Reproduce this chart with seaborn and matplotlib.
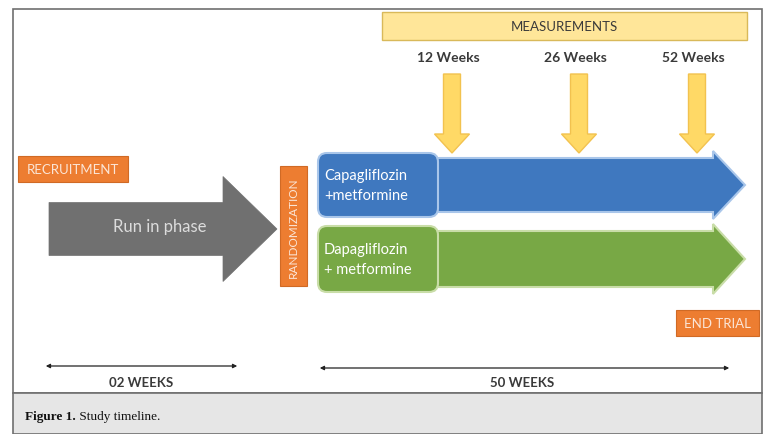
import seaborn as sns
import matplotlib.pyplot as plt
from matplotlib.patches import Polygon, FancyBboxPatch, Rectangle

# --------------------------
# Diagram content
# --------------------------
phase_labels = ['RECRUITMENT', 'RANDOMIZATION', 'END TRIAL']
run_in_label = 'Run in phase'
header_label = 'MEASUREMENTS'
measurement_labels = ['12 Weeks', '26 Weeks', '52 Weeks']
arm_labels = ['Capagliflozin\n+metformine', 'Dapagliflozin\n+ metformine']
duration_labels = ['02 WEEKS', '50 WEEKS']
caption_bold = 'Figure 1.'
caption_text = ' Study timeline.'

# --------------------------
# Style
# --------------------------
sns.set_style("white")
font = ['Lato', 'DejaVu Sans']
plt.rcParams['font.family'] = font

orange = '#ED7D31'
yellow = '#FFD966'
yellow_edge = '#F2C24F'
yellow_box = '#FFE699'
yellow_box_edge = '#D9B95A'
arm_colors = ['#3F78BF', '#78A845']
arm_edges = ['#A9C6EA', '#C9DDA8']
gray_arrow = '#707070'
text_dark = '#3A3A3A'

width, height = 7.63, 4.35
fig = plt.figure(figsize=(width, height), dpi=100)
ax = fig.add_axes([0, 0, 1, 1])
ax.set_xlim(0, 763)
ax.set_ylim(435, 0)
ax.axis('off')

# --------------------------
# Layout (pixel space)
# --------------------------
frame = (13, 10, 749, 384)          # x, y, w, h of white panel
caption_box = (13, 394, 749, 41)
meas_x = [452, 579, 697]
arm_rows = [(152, 220), (225, 295)]  # top, bottom of each arm box


def right_arrow(x0, x1, yc, body_h, head_h, head_len, **kw):
    xs = x1 - head_len
    pts = [(x0, yc - body_h / 2), (xs, yc - body_h / 2), (xs, yc - head_h / 2), (x1, yc),
           (xs, yc + head_h / 2), (xs, yc + body_h / 2), (x0, yc + body_h / 2)]
    ax.add_patch(Polygon(pts, closed=True, **kw))


def down_arrow(xc, y0, y1, shaft_w, head_w, head_len, **kw):
    ys = y1 - head_len
    pts = [(xc - shaft_w / 2, y0), (xc + shaft_w / 2, y0), (xc + shaft_w / 2, ys), (xc + head_w / 2, ys),
           (xc, y1), (xc - head_w / 2, ys), (xc - shaft_w / 2, ys)]
    ax.add_patch(Polygon(pts, closed=True, **kw))


# Frame and caption strip
ax.add_patch(Rectangle(frame[:2], frame[2], frame[3], facecolor='white', edgecolor='#6F6F6F', lw=1.2))
ax.add_patch(Rectangle(caption_box[:2], caption_box[2], caption_box[3], facecolor='#E6E6E6',
                       edgecolor='#6F6F6F', lw=1.2))

# Measurements header
ax.add_patch(Rectangle((382, 13), 365, 28, facecolor=yellow_box, edgecolor=yellow_box_edge, lw=1))
ax.text(564, 27, header_label, ha='center', va='center', fontsize=9.5, color=text_dark)

# Measurement arrows
for x, lab in zip(meas_x, measurement_labels):
    ax.text(x - 4, 58, lab, ha='center', va='center', fontsize=10, color=text_dark, fontweight='bold')
    down_arrow(x, 75, 154, 17, 35, 19, facecolor=yellow, edgecolor=yellow_edge, lw=1, zorder=3)

# Treatment arms
for (top, bot), lab, col, edge in zip(arm_rows, arm_labels, arm_colors, arm_edges):
    yc = (top + bot) / 2
    right_arrow(430, 745, yc, bot - top - 14, bot - top, 32, facecolor=col, edgecolor=edge, lw=1.5, zorder=2)
    ax.add_patch(FancyBboxPatch((318, top + 2), 120, bot - top - 4, boxstyle='round,pad=0,rounding_size=9',
                                facecolor=col, edgecolor=edge, lw=1.5, zorder=4))
    ax.text(324, yc, lab, ha='left', va='center', fontsize=10.5, color='white', linespacing=1.6, zorder=5)

# Run-in arrow
right_arrow(49, 277, 230, 53, 105, 54, facecolor=gray_arrow, edgecolor=gray_arrow, lw=0.5)
ax.text(160, 227, run_in_label, ha='center', va='center', fontsize=12, color='#DCDCDC')

# Orange phase markers
ax.add_patch(Rectangle((18, 157), 110, 26, facecolor=orange, edgecolor='#D06A25', lw=0.8))
ax.text(73, 170, phase_labels[0], ha='center', va='center', fontsize=9.5, color='#FBE5D6')
ax.add_patch(Rectangle((280, 167), 27, 120, facecolor=orange, edgecolor='#D06A25', lw=0.8))
ax.text(293.5, 228, phase_labels[1], ha='center', va='center', fontsize=8.5, color='#FBE5D6', rotation=90)
ax.add_patch(Rectangle((676, 311), 83, 26, facecolor=orange, edgecolor='#D06A25', lw=0.8))
ax.text(717.5, 324, phase_labels[2], ha='center', va='center', fontsize=9.5, color='#FBE5D6')

# Duration spans
spans = [(43, 240, 367), (317, 732, 369)]
for (xa, xb, y), lab in zip(spans, duration_labels):
    ax.annotate('', xy=(xb, y), xytext=(xa, y),
                arrowprops=dict(arrowstyle='<|-|>', color='#222222', lw=0.9, mutation_scale=6))
    ax.text((xa + xb) / 2 + (0 if lab.startswith('02') else -2), 383, lab, ha='center', va='center',
            fontsize=9.5, color=text_dark, fontweight='bold')

# Caption
t = ax.text(25, 417, caption_bold, ha='left', va='center', fontsize=9.5, fontweight='bold',
            family=['Liberation Serif', 'DejaVu Serif'], color='#111111')
fig.canvas.draw()
bb = t.get_window_extent().transformed(ax.transData.inverted())
ax.text(bb.x1, 417, caption_text, ha='left', va='center', fontsize=9.5,
        family=['Liberation Serif', 'DejaVu Serif'], color='#111111')

plt.savefig('out.png', dpi=100)
plt.close()
